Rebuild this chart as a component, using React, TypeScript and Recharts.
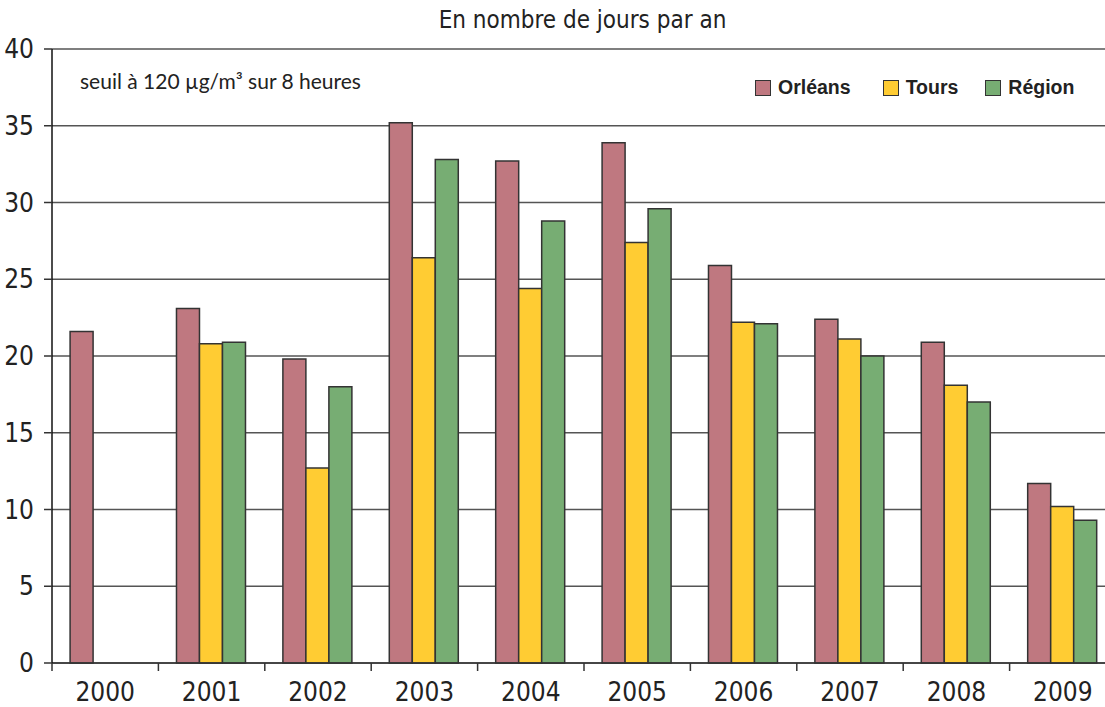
import React from "react";
import { BarChart, Bar, XAxis, YAxis, CartesianGrid } from "recharts";

const years = ["2000", "2001", "2002", "2003", "2004", "2005", "2006", "2007", "2008", "2009"];
const orleans = [21.6, 23.1, 19.8, 35.2, 32.7, 33.9, 25.9, 22.4, 20.9, 11.7];
const tours = [null, 20.8, 12.7, 26.4, 24.4, 27.4, 22.2, 21.1, 18.1, 10.2];
const region = [null, 20.9, 18.0, 32.8, 28.8, 29.6, 22.1, 20.0, 17.0, 9.3];
const yTicks = [0, 5, 10, 15, 20, 25, 30, 35, 40];

const seriesNames = ["Orléans", "Tours", "Région"];
const colors = ["#BF7880", "#FFCC33", "#77AD73"];

const data = years.map((y, i) => ({
  year: y,
  orleans: orleans[i],
  tours: tours[i],
  region: region[i],
}));

const CHART_W = 1116;
const CHART_H = 707;
const Y_AXIS_W = 52;
const BAND = (CHART_W - Y_AXIS_W) / years.length;
const NARROW = "'Liberation Sans Narrow', 'DejaVu Sans Condensed', 'Liberation Sans', sans-serif";

const XTick = (props: any) => {
  const { x, y, payload } = props;
  return (
    <g>
      <line x1={x - BAND / 2} x2={x - BAND / 2} y1={y} y2={y + 8} stroke="#333" strokeWidth={1.5} />
      <text x={x} y={y + 38} textAnchor="middle" fontFamily={NARROW} fontSize={26} fill="#222">
        {payload.value}
      </text>
    </g>
  );
};

const LegendBox = () => (
  <div
    style={{
      position: "absolute",
      left: 755,
      top: 76,
      display: "flex",
      alignItems: "center",
      fontFamily: "'Liberation Sans', Arial, sans-serif",
      fontWeight: "bold",
      fontSize: 19.5,
      color: "#222",
    }}
  >
    {seriesNames.map((n, i) => (
      <div key={n} style={{ display: "flex", alignItems: "center", marginRight: i === 0 ? 32 : i === 1 ? 27 : 0 }}>
        <div style={{ width: 14, height: 14, background: colors[i], border: "1.5px solid #333", marginRight: 7 }} />
        <span>{n}</span>
      </div>
    ))}
  </div>
);

export default function App() {
  return (
    <div style={{ position: "absolute", left: 0, top: 0, width: 1105, height: 707, overflow: "hidden", background: "#fff" }}>
      <BarChart
        width={CHART_W}
        height={CHART_H}
        data={data}
        margin={{ top: 49, right: 0, bottom: 4, left: 0 }}
        barCategoryGap="17%"
        barGap={0}
      >
        <CartesianGrid vertical={false} stroke="#555" strokeWidth={1.5} />
        <XAxis
          dataKey="year"
          height={40}
          tickLine={false}
          tickSize={0}
          tickMargin={0}
          axisLine={{ stroke: "#333", strokeWidth: 1.5 }}
          tick={<XTick />}
          interval={0}
        />
        <YAxis
          width={Y_AXIS_W}
          domain={[0, 40]}
          ticks={yTicks}
          interval={0}
          tickSize={8}
          tickMargin={10}
          axisLine={{ stroke: "#111", strokeWidth: 1.5 }}
          tickLine={{ stroke: "#333", strokeWidth: 1.5 }}
          tick={{ fontFamily: NARROW, fontSize: 26, fill: "#222" }}
        />
        <Bar dataKey="orleans" name={seriesNames[0]} fill={colors[0]} stroke="#333" strokeWidth={1.5} isAnimationActive={false} />
        <Bar dataKey="tours" name={seriesNames[1]} fill={colors[1]} stroke="#333" strokeWidth={1.5} isAnimationActive={false} />
        <Bar dataKey="region" name={seriesNames[2]} fill={colors[2]} stroke="#333" strokeWidth={1.5} isAnimationActive={false} />
      </BarChart>
      <LegendBox />
      <div style={{ position: "absolute", left: 0, top: 6, width: 1165, textAlign: "center", fontFamily: NARROW, fontSize: 24, color: "#222" }}>
        En nombre de jours par an
      </div>
      <div style={{ position: "absolute", left: 80, top: 68, fontFamily: "Lato, 'Open Sans', sans-serif", fontSize: 21, color: "#222" }}>
        seuil à 120 µg/m³ sur 8 heures
      </div>
    </div>
  );
}
